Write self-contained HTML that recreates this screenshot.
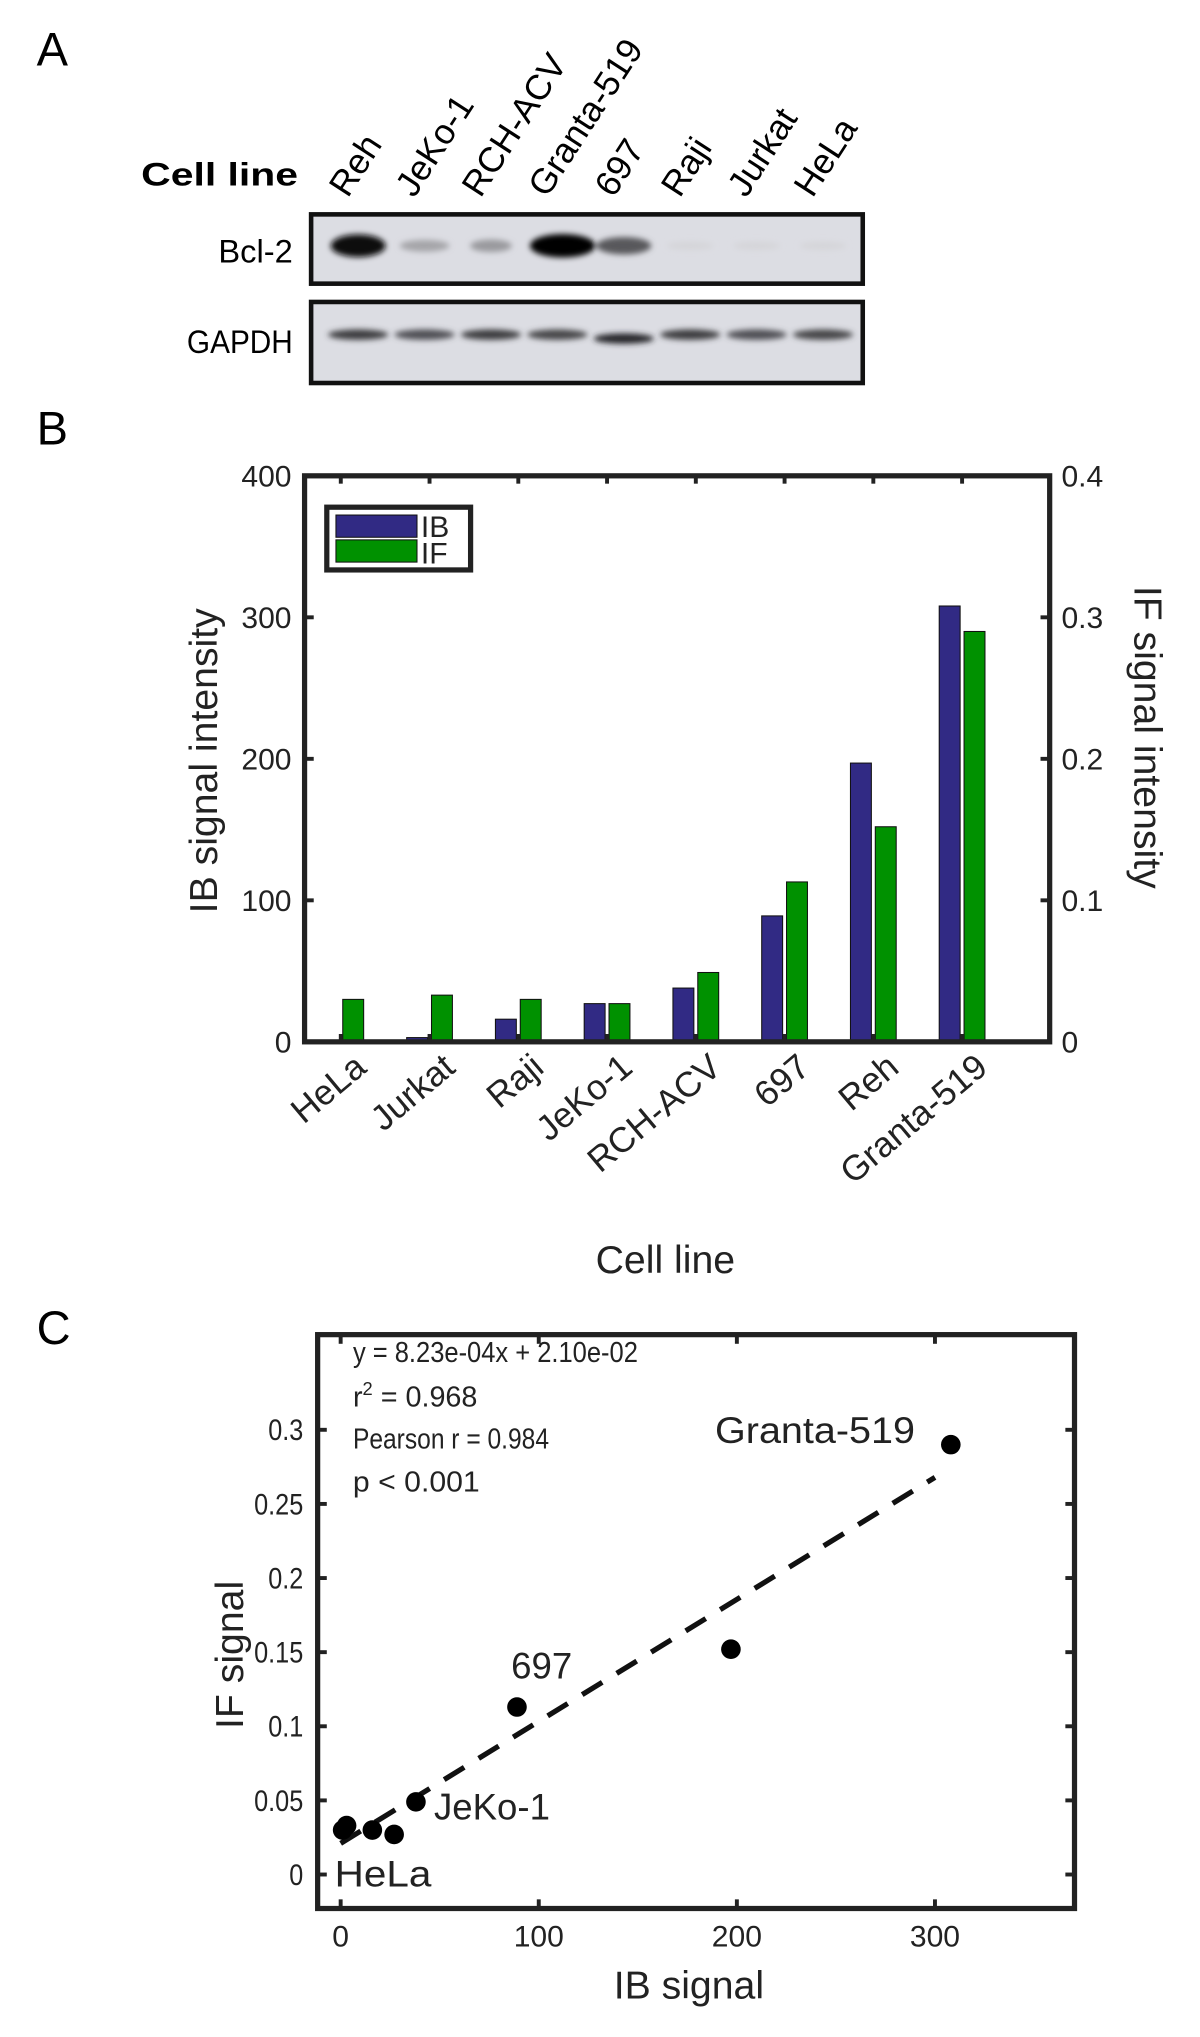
<!DOCTYPE html>
<html><head><meta charset="utf-8"><style>
html,body{margin:0;padding:0;background:#fff;}
svg{display:block;font-family:"Liberation Sans",sans-serif;}
</style></head><body>
<svg id="fig" width="1200" height="2037" viewBox="0 0 918 1558.3" xmlns="http://www.w3.org/2000/svg">
<defs>
<filter id="blur2" x="-50%" y="-200%" width="200%" height="500%"><feGaussianBlur stdDeviation="2.2"/></filter>
</defs>
<!-- Panel A -->
<text x="28" y="50" font-size="36">A</text>
<text x="108" y="142" font-size="25" font-weight="bold" textLength="120" lengthAdjust="spacingAndGlyphs">Cell line</text>
<g id="laneLabels" font-size="27"></g>
<g>
<rect x="238" y="164" width="422" height="53" fill="#dcdde3"/>
<g id="bclBands" filter="url(#blur2)"></g>
<rect x="238" y="164" width="422" height="53" fill="none" stroke="#111" stroke-width="3.5"/>
</g>
<g>
<rect x="238" y="231" width="422" height="62" fill="#dcdde3"/>
<g id="gapBands" filter="url(#blur2)"></g>
<rect x="238" y="231" width="422" height="62" fill="none" stroke="#111" stroke-width="3.5"/>
</g>
<text x="224" y="201" font-size="25" text-anchor="end">Bcl-2</text>
<text x="143" y="270" font-size="25" textLength="81" lengthAdjust="spacingAndGlyphs">GAPDH</text>

<!-- Panel B -->
<text x="28" y="340" font-size="36">B</text>
<g id="chartB" transform="translate(0,-2)"></g>

<!-- Panel C -->
<text x="28" y="1028" font-size="36">C</text>
<g id="chartC" transform="translate(0,-14)"></g>
</svg>
<script>
// ---------- Panel A data ----------
const laneNames = ["Reh","JeKo-1","RCH-ACV","Granta-519","697","Raji","Jurkat","HeLa"];
const bcl2Intensity = [0.95,0.25,0.3,1.0,0.6,0.03,0.03,0.03];
const gapdhIntensity = [0.7,0.6,0.7,0.65,0.8,0.7,0.6,0.65];

// ---------- Panel B data ----------
const categories = ["HeLa","Jurkat","Raji","JeKo-1","RCH-ACV","697","Reh","Granta-519"];
const ibValues = [1,3,16,27,38,89,197,308];
const ifValues = [0.030,0.033,0.030,0.027,0.049,0.113,0.152,0.290];
const leftTicks = [0,100,200,300,400];
const rightTicks = [0,0.1,0.2,0.3,0.4];
const rightTickLabels = ["0","0.1","0.2","0.3","0.4"];

// ---------- Panel C data ----------
const scatterIB = [1,3,16,27,38,89,197,308];
const scatterIF = [0.030,0.033,0.030,0.027,0.049,0.113,0.152,0.290];
const fitSlope = 8.23e-4;
const fitIntercept = 0.021;
const cXTicks = [0,100,200,300];
const cYTicks = [0,0.05,0.1,0.15,0.2,0.25,0.3];
const cYTickLabels = ["0","0.05","0.1","0.15","0.2","0.25","0.3"];

const NS = "http://www.w3.org/2000/svg";
function mk(parent, tag, attrs, text){
  const e = document.createElementNS(NS, tag);
  for (const k in attrs) e.setAttribute(k, attrs[k]);
  if (text !== undefined) e.textContent = text;
  parent.appendChild(e);
  return e;
}
function squeeze(t, f){
  const w = t.getComputedTextLength();
  if (w > 0){ t.setAttribute('textLength', (w*f).toFixed(1)); t.setAttribute('lengthAdjust','spacingAndGlyphs'); }
}

// ---- Panel A drawing ----
const laneX = i => 274 + i*50.8;
const ll = document.getElementById('laneLabels');
laneNames.forEach((n,i)=>{
  const t = mk(ll,'text',{x:0,y:0,transform:`translate(${laneX(i)-8},${152}) rotate(-57)`},n);
  
  
});
const bb = document.getElementById('bclBands');
const bandW = [42,38,32,50,42,36,36,36];
bcl2Intensity.forEach((v,i)=>{
  const g = Math.round(220*(1-v));
  const cx = laneX(i) + (i===3?4:0);
  const e = mk(bb,'ellipse',{cx:cx,cy:188,rx:bandW[i]/2,ry:3+6*v,fill:`rgb(${g},${g},${g+4})`});
  
  
});
const gb = document.getElementById('gapBands');
gapdhIntensity.forEach((v,i)=>{
  const g = Math.round(200*(1-v));
  const e = mk(gb,'ellipse',{cx:laneX(i),cy:(i===4?259:256),rx:23,ry:4,fill:`rgb(${g},${g},${g+4})`});
  
  
});

// ---- Panel B drawing ----
(function(){
  const g = document.getElementById('chartB');
  const L=233, R=803, T=366, B=799;
  const yL = v => B - v/400*(B-T);
  const yR = v => B - v/0.4*(B-T);
  const xc = i => 260.7 + i*67.9;
  const bw = 16;
  categories.forEach((c,i)=>{
    const y1 = yL(ibValues[i]);
    const r1 = mk(g,'rect',{x:xc(i)-bw-1.5,y:y1,width:bw,height:B-y1,fill:'#312a84',stroke:'#111','stroke-width':0.8});
    
    
    const y2 = yR(ifValues[i]);
    const r2 = mk(g,'rect',{x:xc(i)+1.5,y:y2,width:bw,height:B-y2,fill:'#009100',stroke:'#111','stroke-width':0.8});
    
    
    const tk = mk(g,'line',{x1:xc(i),x2:xc(i),y1:T,y2:T+6,stroke:'#222','stroke-width':3});
    
    
    const tk2 = mk(g,'line',{x1:xc(i),x2:xc(i),y1:B,y2:B-6,stroke:'#222','stroke-width':3});
    
    
    const lb = mk(g,'text',{x:0,y:0,'font-size':27,'text-anchor':'end',fill:'#222',transform:`translate(${xc(i)+21},${821}) rotate(-40)`},c);
    
    
  });
  leftTicks.forEach(v=>{
    const y=yL(v);
    const t = mk(g,'text',{x:L-10,y:y+8,'font-size':23,'text-anchor':'end',fill:'#222'},String(v));
    
    
    mk(g,'line',{x1:L,x2:L+7,y1:y,y2:y,stroke:'#222','stroke-width':3});
  });
  rightTicks.forEach((v,i)=>{
    const y=yR(v);
    const t = mk(g,'text',{x:R+9,y:y+8,'font-size':23,fill:'#222'},rightTickLabels[i]);
    
    
    mk(g,'line',{x1:R,x2:R-7,y1:y,y2:y,stroke:'#222','stroke-width':3});
  });
  const box = mk(g,'rect',{x:L,y:T,width:R-L,height:B-T,fill:'none',stroke:'#222','stroke-width':4});
  
  
  const yl = mk(g,'text',{x:0,y:0,'font-size':30,'text-anchor':'middle',fill:'#222',transform:'translate(166,584) rotate(-90)'},'IB signal intensity');
  
  
  const yr = mk(g,'text',{x:0,y:0,'font-size':30,'text-anchor':'middle',fill:'#222',transform:'translate(868,566) rotate(90)'},'IF signal intensity');
  
  
  const xl = mk(g,'text',{x:509,y:976,'font-size':30,'text-anchor':'middle',fill:'#222'},'Cell line');
  
  
  const lg = mk(g,'g',{});
  
  
  mk(lg,'rect',{x:250,y:390,width:110,height:48,fill:'#fff',stroke:'#222','stroke-width':4});
  const s1 = mk(lg,'rect',{x:257,y:396,width:62,height:17,fill:'#312a84',stroke:'#111','stroke-width':0.8});
  
  
  const s2 = mk(lg,'rect',{x:257,y:415,width:62,height:17,fill:'#009100',stroke:'#111','stroke-width':0.8});
  
  
  const t1 = mk(lg,'text',{x:322,y:413,'font-size':23,fill:'#222'},'IB');
  
  
  const t2 = mk(lg,'text',{x:322,y:433,'font-size':23,fill:'#222'},'IF');
  
  
})();

// ---- Panel C drawing ----
(function(){
  const g = document.getElementById('chartC');
  const L=243, R=822, T=1035, B=1474;
  const x = v => 260.6 + v*1.5155;
  const y = v => 1448 - v/0.05*56.7;
  const x0=0, x1=300;
  const fl = mk(g,'line',{x1:x(x0),y1:y(fitIntercept+fitSlope*x0),x2:x(x1),y2:y(fitIntercept+fitSlope*x1),stroke:'#111','stroke-width':4,'stroke-dasharray':'18 13'});
  
  
  scatterIB.forEach((v,i)=>{
    const c = mk(g,'circle',{cx:x(v),cy:y(scatterIF[i]),r:7.5,fill:'#000'});
    
    
  });
  cXTicks.forEach(v=>{
    mk(g,'line',{x1:x(v),x2:x(v),y1:B,y2:B-7,stroke:'#222','stroke-width':3});
    mk(g,'line',{x1:x(v),x2:x(v),y1:T,y2:T+7,stroke:'#222','stroke-width':3});
    const t = mk(g,'text',{x:x(v),y:1503,'font-size':23,'text-anchor':'middle',fill:'#222'},String(v));
    
    
  });
  cYTicks.forEach((v,i)=>{
    mk(g,'line',{x1:L,x2:L+7,y1:y(v),y2:y(v),stroke:'#222','stroke-width':3});
    mk(g,'line',{x1:R,x2:R-7,y1:y(v),y2:y(v),stroke:'#222','stroke-width':3});
    const t = mk(g,'text',{x:L-11,y:y(v)+8,'font-size':23,'text-anchor':'end',fill:'#222'},cYTickLabels[i]);
    
    
    squeeze(t, 0.84);
  });
  const box = mk(g,'rect',{x:L,y:T,width:R-L,height:B-T,fill:'none',stroke:'#222','stroke-width':4});
  
  
  const ann = [["y = 8.23e-04x + 2.10e-02",1056,218],["Pearson r = 0.984",1122,150],["p < 0.001",1155,97]];
  ann.forEach(a=>{
    const t = mk(g,'text',{x:270,y:a[1],'font-size':22,fill:'#222',textLength:a[2],lengthAdjust:'spacingAndGlyphs'},a[0]);
    
    
  });
  const r2 = mk(g,'text',{x:270,y:1090,'font-size':22,fill:'#222'});
  
  
  r2.innerHTML = 'r<tspan dy="-9" font-size="14">2</tspan><tspan dy="9"> = 0.968</tspan>';
  const labs = [["Granta-519",547,1118,153],["697",391,1298,0],["JeKo-1",332,1406,0],["HeLa",256,1457,74]];
  labs.forEach(a=>{
    const at = {x:a[1],y:a[2],'font-size':28,fill:'#222'};
    if (a[3]) { at.textLength = a[3]; at.lengthAdjust = 'spacingAndGlyphs'; }
    const t = mk(g,'text',at,a[0]);
    
    
  });
  const yl = mk(g,'text',{x:0,y:0,'font-size':30,'text-anchor':'middle',fill:'#222',transform:'translate(186,1280) rotate(-90)'},'IF signal');
  
  
  const xl = mk(g,'text',{x:527,y:1543,'font-size':30,'text-anchor':'middle',fill:'#222'},'IB signal');
  
  
})();
</script>
</body></html>
